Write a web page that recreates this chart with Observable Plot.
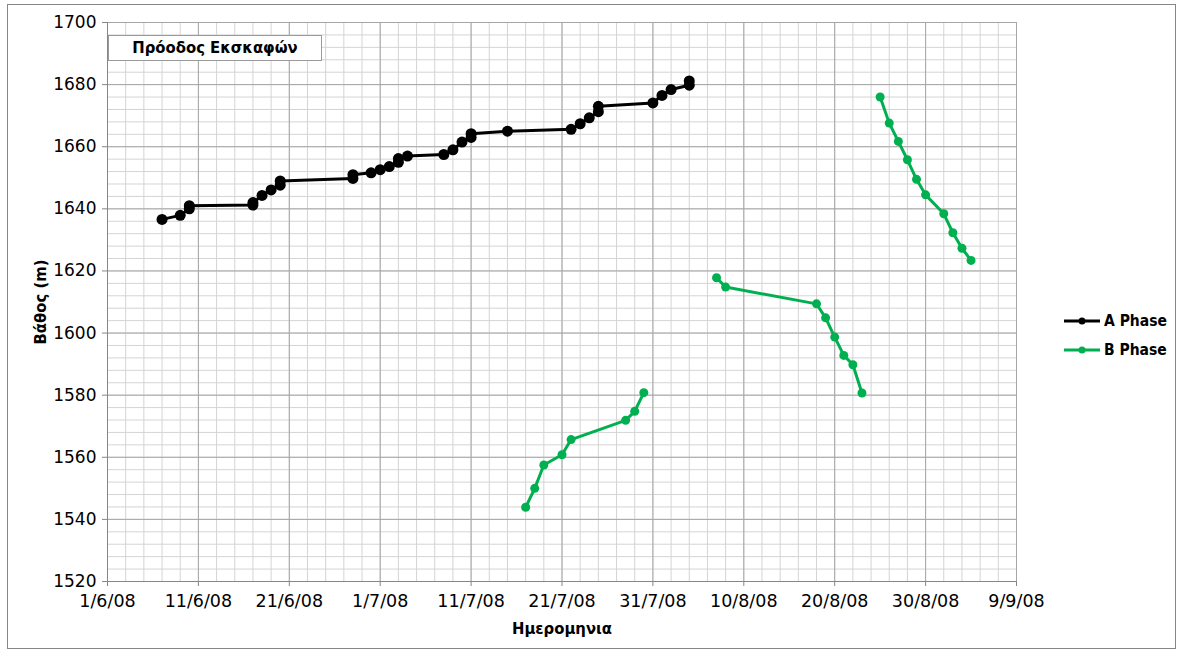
<!DOCTYPE html>
<html>
<head>
<meta charset="utf-8">
<script src="https://cdn.jsdelivr.net/npm/d3@7"></script>
<script src="https://cdn.jsdelivr.net/npm/@observablehq/plot@0.6"></script>
<style>
  body { margin: 0; background: #fff; }
  #wrap { position: relative; width: 1179px; height: 655px; font-family: "DejaVu Sans", Verdana, sans-serif; }
  #border { position: absolute; left: 7px; top: 4px; width: 1169px; height: 645px; border: 1px solid #868686; box-sizing: border-box; pointer-events: none; }
  #title { position: absolute; left: 108px; top: 35px; width: 214px; height: 26px; border: 1px solid #9a9a9a; background: #fff; box-sizing: border-box;
           font: bold 16.5px "DejaVu Sans Condensed", "DejaVu Sans", sans-serif; text-align: center; line-height: 24px; color: #000; }
  #legend { position: absolute; left: 1064px; top: 306px; font: bold 15.5px "DejaVu Sans Condensed", "DejaVu Sans", sans-serif; color: #000; }
  #legend .row { display: flex; align-items: center; height: 29px; }
  #legend svg { margin-right: 4px; }
</style>
</head>
<body>
<div id="wrap"></div>
<script>
// ---- data ----
const seriesNames = ["A Phase", "B Phase"];
const seriesColors = ["#000000", "#00b050"];

const aDates = ["2008-06-07","2008-06-09","2008-06-10","2008-06-10","2008-06-17","2008-06-17","2008-06-18","2008-06-19","2008-06-20","2008-06-20",
  "2008-06-28","2008-06-28","2008-06-30","2008-07-01","2008-07-02","2008-07-03","2008-07-03","2008-07-04","2008-07-08","2008-07-09",
  "2008-07-10","2008-07-11","2008-07-11","2008-07-15","2008-07-22","2008-07-23","2008-07-24","2008-07-25","2008-07-25","2008-07-31",
  "2008-08-01","2008-08-02","2008-08-04","2008-08-04"];
const aDepths = [1636.6,1637.9,1640,1641,1641.2,1642,1644.3,1646.1,1647.6,1649,
  1649.8,1651,1651.6,1652.6,1653.6,1655,1656.2,1657,1657.5,1659,
  1661.5,1663,1664.2,1665,1665.6,1667.4,1669.3,1671.3,1673,1674.1,
  1676.5,1678.4,1679.8,1681.2];

const bDates = ["2008-07-17","2008-07-18","2008-07-19","2008-07-21","2008-07-22","2008-07-28","2008-07-29","2008-07-30",
  "2008-08-07","2008-08-08","2008-08-18","2008-08-19","2008-08-20","2008-08-21","2008-08-22","2008-08-23",
  "2008-08-25","2008-08-26","2008-08-27","2008-08-28","2008-08-29","2008-08-30","2008-09-01","2008-09-02","2008-09-03","2008-09-04"];
const bDepths = [1543.9,1550,1557.5,1560.8,1565.7,1571.9,1574.8,1580.8,
  1617.8,1614.8,1609.4,1604.9,1598.7,1592.8,1589.8,1580.7,
  1676,1667.6,1661.7,1655.8,1649.5,1644.5,1638.4,1632.3,1627.3,1623.4];
const bSegments = [1,1,1,1,1,1,1,1, 2,2,2,2,2,2,2,2, 3,3,3,3,3,3,3,3,3,3];

const xTickDates = ["2008-06-01","2008-06-11","2008-06-21","2008-07-01","2008-07-11","2008-07-21","2008-07-31","2008-08-10","2008-08-20","2008-08-30","2008-09-09"];
const xTickLabels = ["1/6/08","11/6/08","21/6/08","1/7/08","11/7/08","21/7/08","31/7/08","10/8/08","20/8/08","30/8/08","9/9/08"];
const yTicks = [1520,1540,1560,1580,1600,1620,1640,1660,1680,1700];

const chartTitle = "Πρόοδος Εκσκαφών";
const xLabel = "Ημερομηνια";
const yLabel = "Βάθος (m)";

// ---- build ----
const parse = d3.utcParse("%Y-%m-%d");
const A = aDates.map((d, i) => ({date: parse(d), depth: aDepths[i]}));
const B = bDates.map((d, i) => ({date: parse(d), depth: bDepths[i], seg: bSegments[i]}));
const xTicks = xTickDates.map(parse);
const xStart = xTicks[0], xEnd = xTicks[xTicks.length - 1];
const minorX = d3.utcDay.range(xStart, d3.utcDay.offset(xEnd, 1), 2);
const minorY = d3.range(yTicks[0], yTicks[yTicks.length - 1] + 1, 4);
const labelOf = new Map(xTicks.map((d, i) => [+d, xTickLabels[i]]));
const boldFont = "'DejaVu Sans Condensed', 'DejaVu Sans', sans-serif";

const chart = Plot.plot({
  width: 1179,
  height: 655,
  marginLeft: 107,
  marginRight: 163,
  marginTop: 22,
  marginBottom: 74,
  style: {fontFamily: "'DejaVu Sans', Verdana, sans-serif", fontSize: "16px", color: "#000", background: "transparent"},
  x: {type: "utc", domain: [xStart, xEnd]},
  y: {domain: [yTicks[0], yTicks[yTicks.length - 1]]},
  marks: [
    Plot.ruleX(minorX, {stroke: "#d4d4d4", strokeWidth: 1}),
    Plot.ruleY(minorY, {stroke: "#d4d4d4", strokeWidth: 1}),
    Plot.ruleX(xTicks, {stroke: "#a6a6a6", strokeWidth: 1}),
    Plot.ruleY(yTicks, {stroke: "#a6a6a6", strokeWidth: 1}),
    Plot.ruleX([xStart], {stroke: "#868686"}),
    Plot.ruleY([yTicks[0]], {stroke: "#868686"}),
    Plot.axisX({ticks: xTicks, tickFormat: d => labelOf.get(+d), tickSize: 5, tickPadding: 8, stroke: "#868686", label: null, fontSize: 17.5}),
    Plot.axisY({ticks: yTicks, tickSize: 5, tickPadding: 6, stroke: "#868686", label: null, tickFormat: d => String(d), fontSize: 17}),
    Plot.line(A, {x: "date", y: "depth", stroke: seriesColors[0], strokeWidth: 3}),
    Plot.dot(A, {x: "date", y: "depth", r: 5.5, fill: seriesColors[0], stroke: "none"}),
    Plot.line(B, {x: "date", y: "depth", z: "seg", stroke: seriesColors[1], strokeWidth: 3}),
    Plot.dot(B, {x: "date", y: "depth", r: 4.5, fill: seriesColors[1], stroke: "none"}),
    Plot.text([yLabel], {frameAnchor: "left", textAnchor: "middle", dx: -67, rotate: -90, fontWeight: "bold", fontSize: 16.5, fontFamily: boldFont}),
    Plot.text([xLabel], {frameAnchor: "bottom", textAnchor: "middle", dy: 52, fontWeight: "bold", fontSize: 16.5, fontFamily: boldFont})
  ]
});

const wrap = document.getElementById("wrap");
chart.style.position = "absolute";
chart.style.left = "0";
chart.style.top = "0";
wrap.appendChild(chart);

const border = document.createElement("div");
border.id = "border";
wrap.appendChild(border);

const title = document.createElement("div");
title.id = "title";
title.textContent = chartTitle;
wrap.appendChild(title);

const legend = document.createElement("div");
legend.id = "legend";
seriesNames.forEach((name, i) => {
  const row = document.createElement("div");
  row.className = "row";
  row.innerHTML = `<svg width="36" height="10"><line x1="0" y1="5" x2="36" y2="5" stroke="${seriesColors[i]}" stroke-width="3"/><circle cx="18" cy="5" r="3.5" fill="${seriesColors[i]}"/></svg>`;
  const span = document.createElement("span");
  span.textContent = name;
  row.appendChild(span);
  legend.appendChild(row);
});
wrap.appendChild(legend);
</script>
</body>
</html>
